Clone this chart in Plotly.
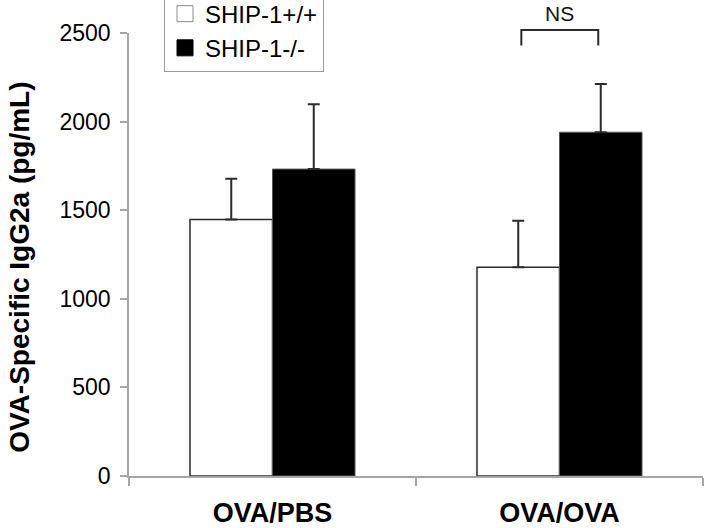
import plotly.graph_objects as go

categories = ["OVA/PBS", "OVA/OVA"]
wt_values = [1448, 1178]
wt_errors = [230, 263]
ko_values = [1732, 1940]
ko_errors = [366, 272]
series_names = ["SHIP-1+/+", "SHIP-1-/-"]
y_ticks = [0, 500, 1000, 1500, 2000, 2500]
y_max = 2500
y_title = "OVA-Specific IgG2a (pg/mL)"
ns_label = "NS"
bracket_top = 2517
bracket_bottom = 2429
ns_y = 2612

FONT = "Liberation Sans, Arial, sans-serif"
AXIS_GRAY = "#a6a6a6"
EDGE = "#2b2b2b"

fig = go.Figure()
fig.add_trace(go.Bar(
    x=categories, y=wt_values, name=series_names[0],
    marker=dict(color="white", line=dict(color=EDGE, width=1.5)),
    error_y=dict(type="data", array=wt_errors, arrayminus=[0, 0], symmetric=False,
                 color=EDGE, thickness=2, width=6),
    showlegend=False,
))
fig.add_trace(go.Bar(
    x=categories, y=ko_values, name=series_names[1],
    marker=dict(color="black", line=dict(color="#555555", width=1)),
    error_y=dict(type="data", array=ko_errors, arrayminus=[0, 0], symmetric=False,
                 color=EDGE, thickness=2, width=6),
    showlegend=False,
))
# legend proxies (larger square symbols)
fig.add_trace(go.Scatter(x=[None], y=[None], mode="markers", name=series_names[0],
                         marker=dict(symbol="square", size=16, color="white",
                                     line=dict(color="#8c8c8c", width=1))))
fig.add_trace(go.Scatter(x=[None], y=[None], mode="markers", name=series_names[1],
                         marker=dict(symbol="square", size=16, color="black",
                                     line=dict(color="black", width=1))))

# NS bracket
fig.add_shape(type="path", xref="x", yref="paper",
              path=(f"M {1-0.133},{bracket_bottom/y_max} L {1-0.133},{bracket_top/y_max} "
                    f"L {1+0.135},{bracket_top/y_max} L {1+0.135},{bracket_bottom/y_max}"),
              line=dict(color=EDGE, width=2))
fig.add_annotation(x=categories[1], xref="x", y=ns_y / y_max, yref="paper",
                   text=ns_label, showarrow=False, xanchor="center", yanchor="middle",
                   font=dict(family=FONT, size=21, color="#111111"))
# y-axis title
fig.add_annotation(x=-109 / 574, xref="paper", xanchor="center", y=0.47, yref="paper",
                   yanchor="middle", text=y_title, textangle=-90, showarrow=False,
                   font=dict(family=FONT, size=28, color="black", weight="bold"))

fig.update_layout(
    width=704, height=528,
    margin=dict(l=129, r=1, t=33, b=52, autoexpand=False),
    paper_bgcolor="white", plot_bgcolor="white",
    barmode="group", bargap=0.425, bargroupgap=0,
    font=dict(family=FONT, color="black"),
    legend=dict(x=0.061, y=0.913, xanchor="left", yanchor="bottom",
                bordercolor="#999999", borderwidth=1, bgcolor="white",
                font=dict(family=FONT, size=24, color="black"),
                itemwidth=30, tracegroupgap=0),
    xaxis=dict(type="category", tickson="boundaries", range=[-0.5, 1.5],
               showline=True, linecolor=AXIS_GRAY, linewidth=1.5,
               ticks="outside", ticklen=8, tickcolor=AXIS_GRAY, tickwidth=1.5,
               tickfont=dict(family=FONT, size=27, color="black", weight="bold"),
               ticklabelstandoff=12, showgrid=False, zeroline=False, fixedrange=True),
    yaxis=dict(range=[0, y_max], tickvals=y_ticks,
               showline=True, linecolor=AXIS_GRAY, linewidth=1.5,
               ticks="outside", ticklen=7, tickcolor=AXIS_GRAY, tickwidth=1.5,
               tickfont=dict(family=FONT, size=23, color="black"),
               ticklabelstandoff=5, showgrid=False, zeroline=False,
               automargin=False, fixedrange=True),
)

fig.write_html("out.html", config={"displayModeBar": False},
               post_script="document.body.style.margin='0';")
